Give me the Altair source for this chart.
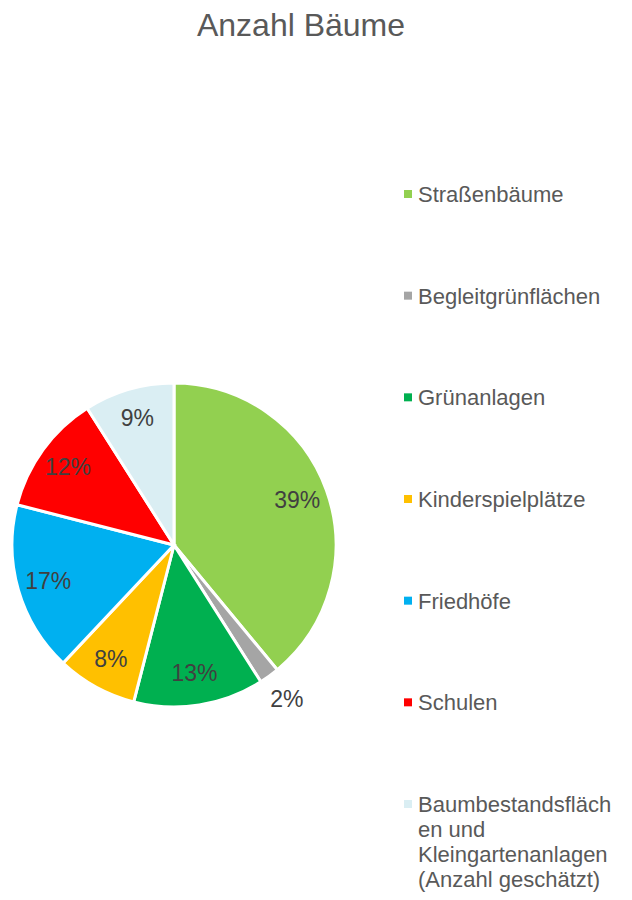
import altair as alt
import pandas as pd

categories = [
    "Straßenbäume",
    "Begleitgrünflächen",
    "Grünanlagen",
    "Kinderspielplätze",
    "Friedhöfe",
    "Schulen",
    "Baumbestandsflächen und Kleingartenanlagen (Anzahl geschätzt)",
]
legend_labels = [
    "Straßenbäume",
    "Begleitgrünflächen",
    "Grünanlagen",
    "Kinderspielplätze",
    "Friedhöfe",
    "Schulen",
    "Baumbestandsfläch\nen und\nKleingartenanlagen\n(Anzahl geschätzt)",
]
values = [39, 2, 13, 8, 17, 12, 9]
colors = ["#92D050", "#A5A5A5", "#00B050", "#FFC000", "#00B0F0", "#FF0000", "#DAEEF3"]

df = pd.DataFrame({
    "cat": categories,
    "legend": legend_labels,
    "value": values,
    "idx": list(range(len(categories))),
})
df["pct"] = df["value"].astype(str) + "%"

W, H = 616, 884
cx, cy, R = 166, 537, 162

color_scale = alt.Scale(domain=categories, range=colors)
base = alt.Chart(df)

theta = alt.Theta("value:Q", stack=True)

pie = base.mark_arc(radius=R, stroke="white", strokeWidth=3).encode(
    theta=theta,
    color=alt.Color("cat:N", scale=color_scale, legend=None),
    order=alt.Order("idx:Q"),
    x=alt.value(cx), y=alt.value(cy),
)

lab_in = base.mark_text(
    radius=131, fontSize=23, font="Liberation Sans", color="#404040"
).encode(
    theta=theta,
    text=alt.condition("datum.value >= 5", "pct:N", alt.value("")),
    order=alt.Order("idx:Q"),
    x=alt.value(cx), y=alt.value(cy),
)
lab_out = base.mark_text(
    radius=192, fontSize=23, font="Liberation Sans", color="#404040"
).encode(
    theta=theta,
    text=alt.condition("datum.value < 5", "pct:N", alt.value("")),
    order=alt.Order("idx:Q"),
    x=alt.value(cx), y=alt.value(cy),
)

ypos = alt.Y("cat:N", scale=alt.Scale(domain=categories, range=[186, 796], type="point", padding=0), axis=None)

leg_sq = base.mark_square(size=64, opacity=1).encode(
    x=alt.value(400), y=ypos,
    color=alt.Color("cat:N", scale=color_scale, legend=None),
)
leg_txt = base.mark_text(
    align="left", baseline="alphabetic", dy=8, fontSize=22, lineHeight=25,
    font="Liberation Sans", color="#595959", lineBreak="\n",
).encode(x=alt.value(410), y=ypos, text="legend:N")

title = alt.Chart(pd.DataFrame({"t": ["Anzahl Bäume"]})).mark_text(
    fontSize=32, font="Liberation Sans", color="#595959", align="center", baseline="middle"
).encode(x=alt.value(293), y=alt.value(18), text="t:N")

chart = alt.layer(pie, lab_in, lab_out, leg_sq, leg_txt, title).properties(
    width=W, height=H, padding=0, autosize=alt.AutoSizeParams(type="none")
).configure_view(stroke=None)

chart.save("out.html", embed_options={"renderer": "svg", "actions": False})
